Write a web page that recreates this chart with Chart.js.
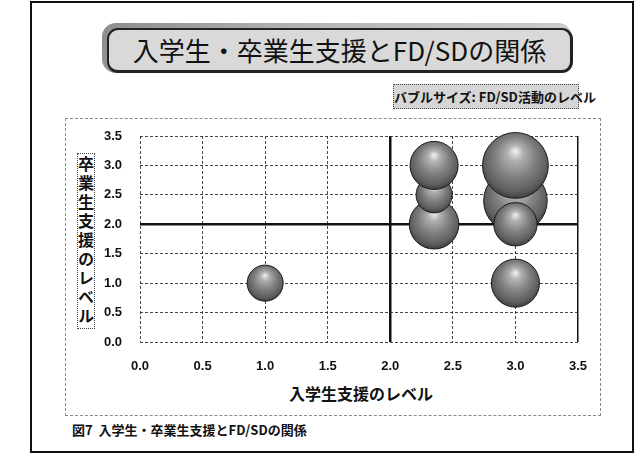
<!DOCTYPE html>
<html lang="ja">
<head>
<meta charset="utf-8">
<script src="https://cdn.jsdelivr.net/npm/chart.js@4.4.1/dist/chart.umd.min.js"></script>
<style>
  html, body { margin:0; padding:0; background:#fff; }
  body { width:644px; height:457px; position:relative; overflow:hidden; font-family:"Noto Sans CJK JP","Liberation Sans",sans-serif; color:#111; }
  .abs { position:absolute; }
  #outer { left:30px; top:1px; width:600px; height:448px; border:2px solid #111; }
  #titleBack { left:102px; top:23px; width:470px; height:50px; border-radius:14px;
    background:linear-gradient(135deg,#8c8c8c 0%,#b5b5b5 40%,#cfcfcf 100%); }
  #titleBox { left:107px; top:28px; width:461px; height:40px; border:2px solid #222; border-right-width:3px; border-bottom-width:3px;
    border-radius:11px; background:#d9d9d9; font-size:26px; line-height:40px; text-align:center; letter-spacing:0px; }
  #bubbleNote { left:393px; top:84px; width:184px; height:23px; border:1px dotted #444; background:#d6d6d6;
    font-size:13px; font-weight:bold; line-height:23px; text-align:center; white-space:nowrap; }
  #frame { left:65px; top:118px; width:534px; height:296px; border:1px dashed #888; }
  #yTitle { left:77px; top:153px; width:16px; height:174px; border:1px dotted #444; writing-mode:vertical-rl; text-orientation:upright;
    font-size:16px; font-weight:bold; line-height:16px; letter-spacing:3px; text-align:center; }
  #xTitle { left:261px; top:382px; width:200px; text-align:center; font-size:16px; font-weight:bold; line-height:22px; }
  #caption { left:72px; top:421px; font-size:13px; font-weight:bold; line-height:18px; white-space:nowrap; }
  canvas { position:absolute; left:0; top:0; }
</style>
</head>
<body>
<div id="outer" class="abs"></div>
<div id="titleBack" class="abs"></div>
<div id="titleBox" class="abs">入学生・卒業生支援とFD/SDの関係</div>
<div id="bubbleNote" class="abs">バブルサイズ:&nbsp;FD/SD活動のレベル</div>
<div id="frame" class="abs"></div>
<div id="yTitle" class="abs">卒業生支援のレベル</div>
<div id="xTitle" class="abs">入学生支援のレベル</div>
<div id="caption" class="abs">図7&nbsp;&nbsp;入学生・卒業生支援とFD/SDの関係</div>
<canvas id="chart" width="644" height="457"></canvas>
<script>
// --- DATA ---
// x: 入学生支援のレベル, y: 卒業生支援のレベル, size: FD/SD活動のレベル
const enrollSupport   = [1.0, 2.35, 2.35, 2.35, 3.0, 3.0, 3.0, 3.0];
const graduateSupport = [1.0, 2.0,  2.5,  3.0,  2.4, 2.0, 3.0, 1.0];
const fdsdLevel       = [0.9, 1.7,  0.9,  1.6,  2.8, 1.3, 3.0, 1.6];
const axisTicks = [0, 0.5, 1.0, 1.5, 2.0, 2.5, 3.0, 3.5];
const quadrantLine = 2.0;

// bubble area follows the FD/SD level (like Excel "size represents area")
const radiusOf = v => 19 * Math.sqrt(v);

const points = enrollSupport.map((x, i) => ({ x, y: graduateSupport[i], r: radiusOf(fdsdLevel[i]) }));

// sphere look
function sphereFill(ctx){
  if(ctx.type !== 'data') return '#888';
  const chart = ctx.chart;
  const xs = chart.scales.x, ys = chart.scales.y;
  if(!xs || !ys) return '#888';
  const cx = xs.getPixelForValue(ctx.raw.x);
  const cy = ys.getPixelForValue(ctx.raw.y);
  const r = ctx.raw.r;
  if(!isFinite(cx) || !isFinite(cy)) return '#888';
  const g = chart.ctx.createRadialGradient(cx, cy - r*0.45, 0, cx, cy - r*0.1, r*1.12);
  g.addColorStop(0, '#f2f2f2');
  g.addColorStop(0.22, '#b0b0b0');
  g.addColorStop(0.55, '#808080');
  g.addColorStop(0.85, '#5e5e5e');
  g.addColorStop(1, '#3c3c3c');
  return g;
}

const tickFont = { family:"'Liberation Sans', Arial, sans-serif", size:13, weight:'bold' };
const gridWidth = c => c.tick && c.tick.value === quadrantLine ? 2.5 : 1;
const gridColor = c => c.tick && c.tick.value === quadrantLine ? '#111' : 'rgba(40,40,40,0.85)';
const gridDash  = c => c.tick && c.tick.value === quadrantLine ? [] : [3, 2];

new Chart(document.getElementById('chart'), {
  type: 'bubble',
  data: {
    datasets: [{
      label: 'FD/SD',
      data: points,
      backgroundColor: sphereFill,
      borderColor: '#1a1a1a',
      borderWidth: 1,
      clip: false
    }]
  },
  options: {
    responsive: false,
    animation: false,
    devicePixelRatio: 1,
    layout: { padding: { left: 0, top: 136, right: 66, bottom: 0 } },
    plugins: { legend: { display:false }, tooltip: { enabled:false }, title: { display:false } },
    scales: {
      x: {
        type: 'linear', min: 0, max: 3.5,
        afterBuildTicks: s => { s.ticks = axisTicks.map(v => ({ value:v })); },
        afterFit: s => { s.height = 115; },
        ticks: { font: tickFont, color:'#111', padding: 17, callback: v => Number(v).toFixed(1) },
        grid: {
          drawTicks: false,
          lineWidth: c => (c.tick && c.tick.value === 3.5) ? 1.5 : gridWidth(c),
          color: c => (c.tick && c.tick.value === 3.5) ? '#111' : gridColor(c)
        },
        border: { display: false, dash: c => (c.tick && c.tick.value === 3.5) ? [] : gridDash(c) }
      },
      y: {
        type: 'linear', min: 0, max: 3.5,
        afterBuildTicks: s => { s.ticks = axisTicks.map(v => ({ value:v })); },
        afterFit: s => { s.width = 140; },
        ticks: { font: tickFont, color:'#111', padding: 18, callback: v => Number(v).toFixed(1) },
        grid: { drawTicks: false, lineWidth: gridWidth, color: gridColor },
        border: { display: false, dash: gridDash }
      }
    }
  }
});
</script>
</body>
</html>
